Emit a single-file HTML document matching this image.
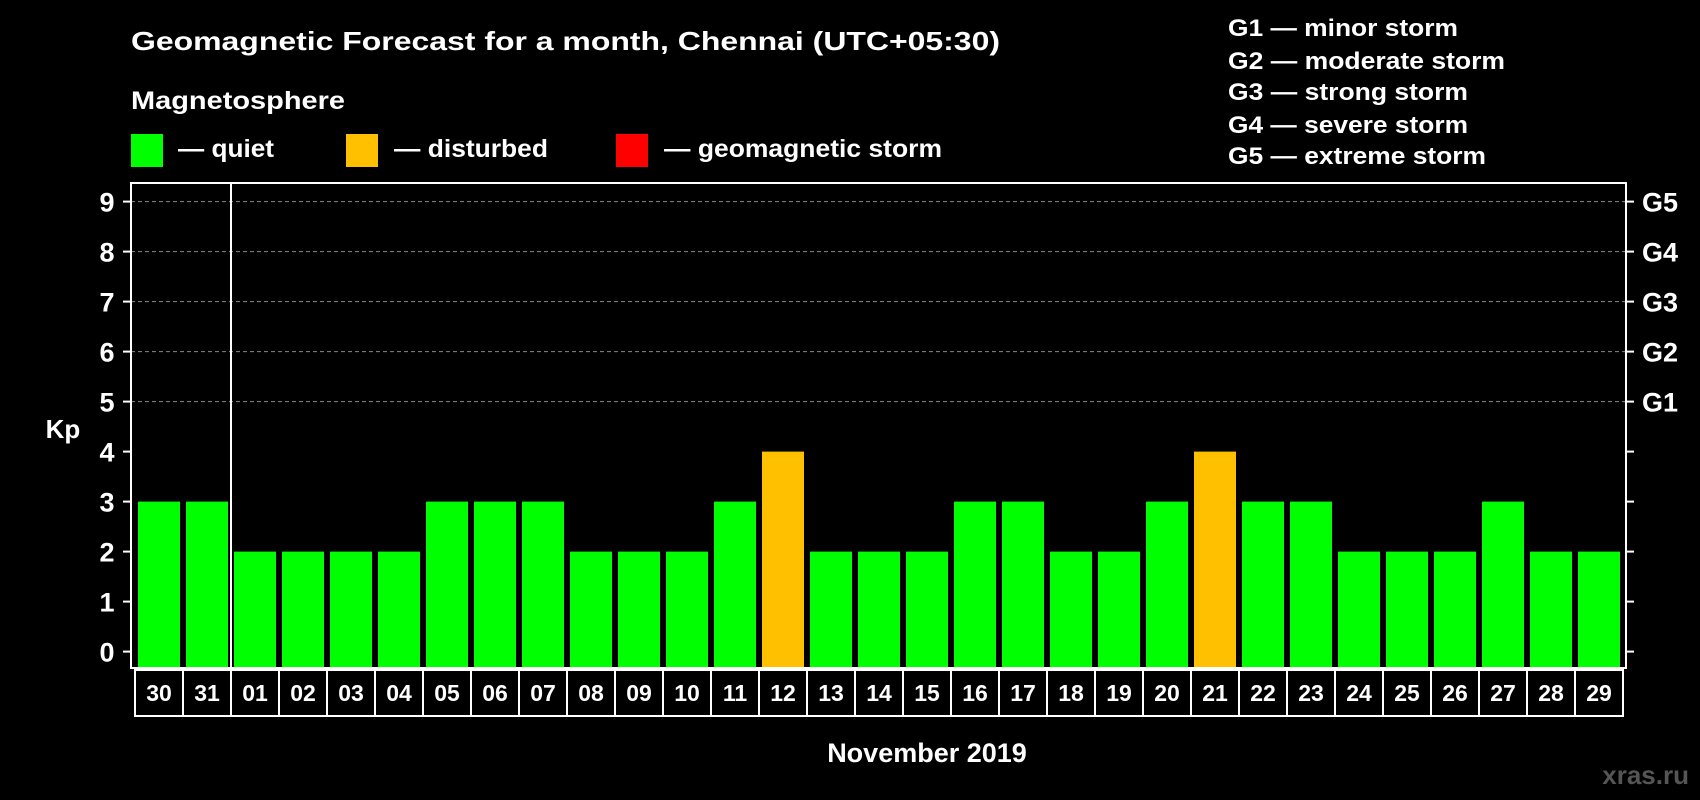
<!DOCTYPE html>
<html><head><meta charset="utf-8"><style>
html,body{margin:0;padding:0;background:#000;}
svg{display:block;font-family:"Liberation Sans",Arial,sans-serif;font-weight:bold;}
</style></head><body>
<svg id="chart" width="1700" height="800" viewBox="0 0 1700 800">
<rect width="1700" height="800" fill="#000"/>
<text x="131" y="50" fill="#fff" font-size="26" textLength="869" lengthAdjust="spacingAndGlyphs">Geomagnetic Forecast for a month, Chennai (UTC+05:30)</text>
<text x="131" y="109" fill="#fff" font-size="25" textLength="214" lengthAdjust="spacingAndGlyphs">Magnetosphere</text>
<g>
<rect x="131" y="134" width="32" height="33" fill="#00ff00"/>
<text x="178" y="157" fill="#fff" font-size="25" textLength="96" lengthAdjust="spacingAndGlyphs">— quiet</text></g>
<g>
<rect x="346" y="134" width="32" height="33" fill="#ffc000"/>
<text x="394" y="157" fill="#fff" font-size="25" textLength="154" lengthAdjust="spacingAndGlyphs">— disturbed</text></g>
<g>
<rect x="616" y="134" width="32" height="33" fill="#ff0000"/>
<text x="664" y="157" fill="#fff" font-size="25" textLength="278" lengthAdjust="spacingAndGlyphs">— geomagnetic storm</text></g>
<g fill="#fff" font-size="24">
<text x="1228" y="36" textLength="230" lengthAdjust="spacingAndGlyphs">G1 — minor storm</text>
<text x="1228" y="69" textLength="277" lengthAdjust="spacingAndGlyphs">G2 — moderate storm</text>
<text x="1228" y="100" textLength="240" lengthAdjust="spacingAndGlyphs">G3 — strong storm</text>
<text x="1228" y="133" textLength="240" lengthAdjust="spacingAndGlyphs">G4 — severe storm</text>
<text x="1228" y="164" textLength="258" lengthAdjust="spacingAndGlyphs">G5 — extreme storm</text>
</g>
<text x="63" y="438" fill="#fff" font-size="26" text-anchor="middle">Kp</text>
<text x="927" y="762" fill="#fff" font-size="27" text-anchor="middle">November 2019</text>
<text x="1689" y="784" fill="#555" font-size="26" text-anchor="end">xras.ru</text>
<g id="grid"></g><g id="bars"></g><g id="axes"></g><g id="xlabels"></g>
</svg>
<script>
const days = ["30","31","01","02","03","04","05","06","07","08","09","10","11","12","13","14","15","16","17","18","19","20","21","22","23","24","25","26","27","28","29"];
const kpValues = [3,3,2,2,2,2,3,3,3,2,2,2,3,4,2,2,2,3,3,2,2,3,4,3,3,2,2,2,3,2,2];
const yTicks = [0,1,2,3,4,5,6,7,8,9];
const gLabels = ["","","","","","G1","G2","G3","G4","G5"];
const NS="http://www.w3.org/2000/svg";
const L=131,R=1626,T=183,B=668,Y0=651.6,UNIT=50;
const step=48, x0=138;
function y(v){return Y0-v*UNIT;}
function x(i){return x0+i*step;}
function mk(tag,attrs,parent){const e=document.createElementNS(NS,tag);for(const k in attrs)e.setAttribute(k,attrs[k]);parent.appendChild(e);return e;}
const grid=document.getElementById('grid'),bars=document.getElementById('bars'),axes=document.getElementById('axes'),xl=document.getElementById('xlabels');
yTicks.forEach((v,i)=>{
  if(v>=5){const g=mk('line',{x1:L,x2:R,y1:y(v),y2:y(v),stroke:'#888','stroke-width':1,'stroke-dasharray':'4,3'},grid);
    
    }
  const t1=mk('line',{x1:L-8,x2:L,y1:y(v),y2:y(v),stroke:'#fff','stroke-width':2},axes);
  
  
  const t2=mk('line',{x1:R,x2:R+8,y1:y(v),y2:y(v),stroke:'#fff','stroke-width':2},axes);
  
  
  const lb=mk('text',{x:107,y:y(v)+10,fill:'#fff','font-size':27,'text-anchor':'middle'},axes);
  lb.textContent=v;
  
  
  if(gLabels[i]){const gl=mk('text',{x:1642,y:y(v)+10,fill:'#fff','font-size':27},axes);
    gl.textContent=gLabels[i];
    
    }
});
kpValues.forEach((v,i)=>{
  const c=v>=5?'#ff0000':(v>=4?'#ffc000':'#00ff00');
  const r=mk('rect',{x:x(i),y:y(v),width:42,height:B-1-y(v),fill:c},bars);
  
  
});
const fr=mk('rect',{x:L,y:T,width:R-L,height:B-T,fill:'none',stroke:'#fff','stroke-width':2},axes);


const sep=mk('line',{x1:x(2)-3,x2:x(2)-3,y1:T,y2:B,stroke:'#fff','stroke-width':2},axes);


days.forEach((d,i)=>{
  const cell=mk('rect',{x:x(i)-3,y:670,width:step,height:46,fill:'#000',stroke:'#fff','stroke-width':2},xl);
  
  
  const t=mk('text',{x:x(i)+21,y:701,fill:'#fff','font-size':23,'text-anchor':'middle'},xl);
  t.textContent=d;
  
  
});
</script>
</body></html>
